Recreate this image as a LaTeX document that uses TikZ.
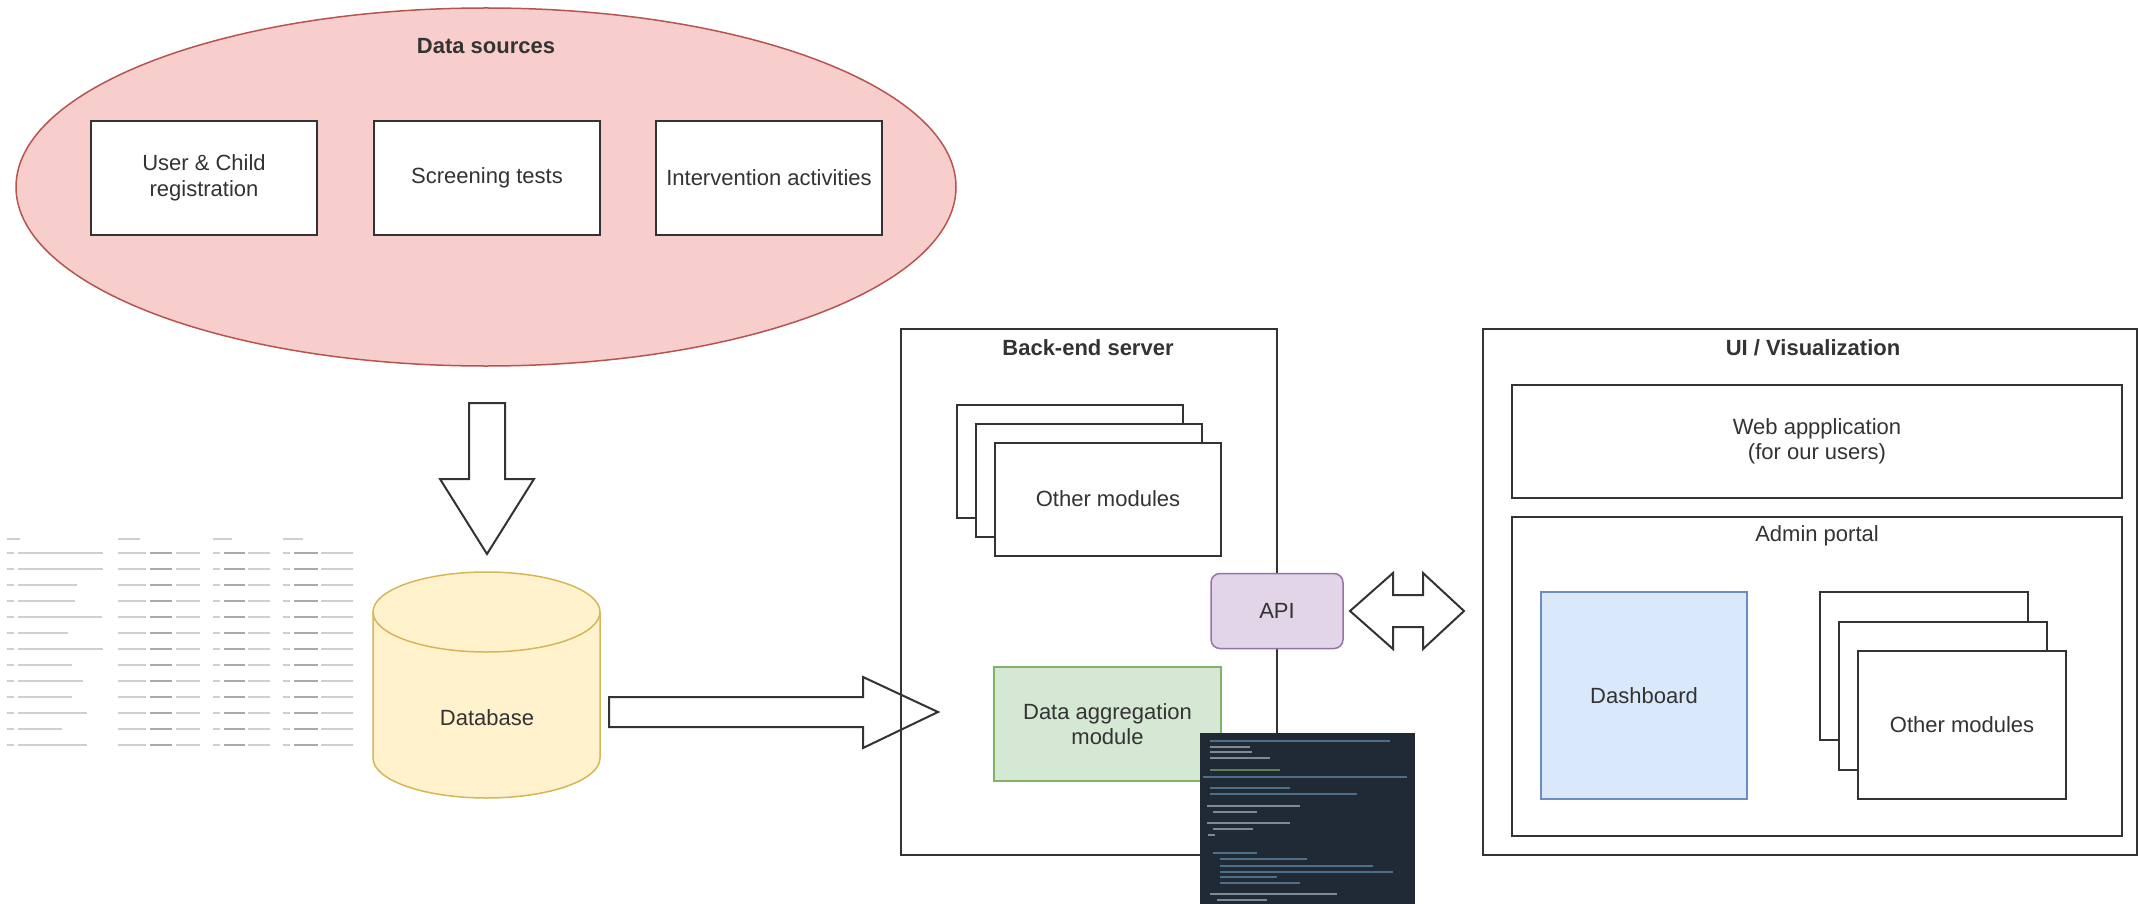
\documentclass[tikz,border=0pt]{standalone}
\usepackage{fontspec}
\setmainfont{Liberation Sans}
\usetikzlibrary{shapes.geometric}
\definecolor{dsfill}{HTML}{F8CECC}
\definecolor{dsdraw}{HTML}{B85450}
\definecolor{dbfill}{HTML}{FFF2CC}
\definecolor{dbdraw}{HTML}{D6B656}
\definecolor{apifill}{HTML}{E1D5E7}
\definecolor{apidraw}{HTML}{9673A6}
\definecolor{aggfill}{HTML}{D5E8D4}
\definecolor{aggdraw}{HTML}{82B366}
\definecolor{dashfill}{HTML}{DAE8FC}
\definecolor{dashdraw}{HTML}{6C8EBF}
\definecolor{ink}{HTML}{333333}
\definecolor{codebg}{HTML}{1F2A35}
\definecolor{codeA}{HTML}{4F6E88}
\definecolor{codeB}{HTML}{5F7F5A}
\definecolor{codeC}{HTML}{7F8A96}
\definecolor{tblgray}{HTML}{CFCFCF}
\definecolor{tbldark}{HTML}{A8A8B0}
\begin{document}
\begin{tikzpicture}[x=1pt,y=-1pt,
  every node/.style={font=\fontsize{22}{25.5}\selectfont, text=ink, inner sep=0pt, align=center},
  box/.style={draw=ink, line width=2pt, fill=white, rectangle},
  frame/.style={draw=ink, line width=2pt, rectangle},
  titletext/.style={font=\fontsize{22}{25.5}\selectfont\bfseries},
  blockarrow/.style={draw=ink, line width=2pt, line join=miter},
  tbl/.style={draw=tblgray, line width=2.5pt},
  codeline/.style={line width=1.8pt}]

\useasboundingbox (0,0) rectangle (2140,904);

% ---------- left table (blurred screenshot) ----------
\draw[tbl] (7,539) -- (20,539);
\draw[tbl] (118,539) -- (140,539);
\draw[tbl] (213,539) -- (232,539);
\draw[tbl] (283,539) -- (303,539);
\foreach \y/\e in {553/103,569/103,585/77,601/75,617/102,633/68,649/103,665/72,681/83,697/72,713/87,729/62,745/87}{
  \draw[tbl] (7,\y) -- (14,\y);
  \draw[tbl] (18,\y) -- (\e,\y);
  \draw[tbl] (118,\y) -- (146,\y);
  \draw[tbl, draw=tbldark] (150,\y) -- (172,\y);
  \draw[tbl] (176,\y) -- (200,\y);
  \draw[tbl] (213,\y) -- (220,\y);
  \draw[tbl, draw=tbldark] (224,\y) -- (245,\y);
  \draw[tbl] (248,\y) -- (270,\y);
  \draw[tbl] (283,\y) -- (290,\y);
  \draw[tbl, draw=tbldark] (294,\y) -- (318,\y);
  \draw[tbl] (321,\y) -- (353,\y);
}

% ---------- Data sources ----------
\node[ellipse, draw=dsdraw, fill=dsfill, line width=1.5pt, minimum width=940pt, minimum height=358pt] (ds) at (486,187) {};
\node[titletext] (dstitle) at (486,46) {Data sources};
\node[box, minimum width=226pt, minimum height=114pt] (reg) at (204,178) {User \& Child\\registration};
\node[box, minimum width=226pt, minimum height=114pt] (scr) at (487,178) {Screening tests};
\node[box, minimum width=226pt, minimum height=114pt] (intv) at (769,178) {Intervention activities};

% down block arrow
\draw[blockarrow, fill=white] (469,403) -- (505,403) -- (505,479) -- (534,479) -- (487,554) -- (440,479) -- (469,479) -- cycle;

% ---------- Database cylinder ----------
\path[fill=dbfill, draw=dbdraw, line width=1.5pt] (373,612) -- (373,758)
  arc[start angle=180, end angle=360, x radius=113.5pt, y radius=40pt] -- (600,612)
  arc[start angle=0, end angle=180, x radius=113.5pt, y radius=40pt] -- cycle;
\draw[dbdraw, line width=1.5pt] (373,612) arc[start angle=180, end angle=360, x radius=113.5pt, y radius=40pt];
\node (db) at (487,718) {Database};

% right block arrow
\draw[blockarrow] (609,697) -- (863,697) -- (863,677) -- (938,712) -- (863,748) -- (863,727) -- (609,727) -- cycle;

% ---------- Back-end server ----------
\node[frame, minimum width=376pt, minimum height=526pt] (be) at (1089,592) {};
\node[titletext] (betitle) at (1088,348) {Back-end server};
\node[box, minimum width=226pt, minimum height=113pt] (om1) at (1070,461) {};
\node[box, minimum width=226pt, minimum height=113pt] (om2) at (1089,480) {};
\node[box, minimum width=226pt, minimum height=113pt] (om3) at (1108,499) {Other modules};
\node[draw=aggdraw, fill=aggfill, line width=1.5pt, minimum width=227pt, minimum height=114pt] (agg) at (1107.5,724) {Data aggregation\\module};
\node[draw=apidraw, fill=apifill, rounded corners=9pt, line width=1.5pt, minimum width=132pt, minimum height=75pt] (api) at (1277,611) {API};

% code screenshot
\node[fill=codebg, minimum width=215pt, minimum height=171pt, anchor=north west] (code) at (1200,733) {};
\foreach \y/\a/\b/\c in {741/1210/1390/codeA, 747/1210/1250/codeC, 752/1210/1252/codeC, 758/1210/1270/codeC,
  770/1210/1280/codeB, 777/1203/1407/codeA, 788/1210/1290/codeA, 794/1210/1357/codeA,
  806/1207/1300/codeC, 812/1213/1257/codeC, 823/1207/1290/codeC, 829/1213/1253/codeC, 835/1208/1215/codeC,
  853/1213/1257/codeA, 859/1220/1307/codeA, 866/1220/1373/codeA, 872/1220/1393/codeA, 877/1220/1277/codeA,
  883/1220/1300/codeA, 894/1210/1337/codeC, 900/1217/1267/codeC}{
  \draw[codeline, draw=\c] (\a,\y) -- (\b,\y);
}

% double block arrow
\draw[blockarrow, fill=white] (1350,611) -- (1393,573) -- (1393,595) -- (1423,595) -- (1423,573) -- (1464,611) -- (1423,649) -- (1423,627) -- (1393,627) -- (1393,649) -- cycle;

% ---------- UI / Visualization ----------
\node[frame, minimum width=654pt, minimum height=526pt] (ui) at (1810,592) {};
\node[titletext] (uititle) at (1813,348) {UI / Visualization};
\node[box, minimum width=610pt, minimum height=113pt] (web) at (1817,441.5) {Web appplication\\(for our users)};
\node[box, minimum width=610pt, minimum height=319pt] (admin) at (1817,676.5) {};
\node (admintitle) at (1817,536) {Admin portal};
\node[draw=dashdraw, fill=dashfill, line width=1.5pt, minimum width=206pt, minimum height=207pt] (dash) at (1644,695.5) {Dashboard};
\node[box, minimum width=208pt, minimum height=148pt] (uom1) at (1924,666) {};
\node[box, minimum width=208pt, minimum height=148pt] (uom2) at (1943,695.5) {};
\node[box, minimum width=208pt, minimum height=148pt] (uom3) at (1962,725) {Other modules};
\end{tikzpicture}
\end{document}
